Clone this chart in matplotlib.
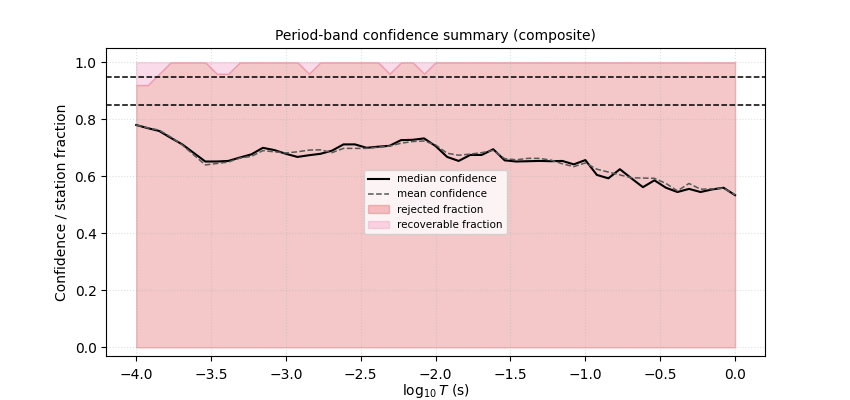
import numpy as np
import matplotlib
matplotlib.use("Agg")
import matplotlib.pyplot as plt

# period bands, log10 T (s)
LOGT = np.linspace(-4.0, 0.0, 53)

MEDIAN = [0.780, 0.769, 0.759, 0.735, 0.712, 0.682, 0.652, 0.652, 0.654, 0.666,
          0.677, 0.700, 0.692, 0.679, 0.668, 0.674, 0.679, 0.690, 0.712, 0.712,
          0.700, 0.704, 0.707, 0.727, 0.728, 0.733, 0.706, 0.668, 0.654, 0.675,
          0.675, 0.695, 0.656, 0.652, 0.653, 0.654, 0.653, 0.654, 0.642, 0.657,
          0.605, 0.593, 0.625, 0.593, 0.562, 0.586, 0.560, 0.545, 0.556, 0.545,
          0.554, 0.560, 0.534]
MEAN = [0.780, 0.770, 0.762, 0.738, 0.710, 0.675, 0.640, 0.645, 0.650, 0.664,
        0.670, 0.690, 0.686, 0.682, 0.686, 0.692, 0.693, 0.683, 0.698, 0.698,
        0.698, 0.702, 0.706, 0.716, 0.722, 0.724, 0.710, 0.681, 0.674, 0.678,
        0.683, 0.691, 0.662, 0.658, 0.663, 0.663, 0.657, 0.644, 0.634, 0.647,
        0.625, 0.615, 0.605, 0.595, 0.594, 0.593, 0.575, 0.549, 0.575, 0.555,
        0.556, 0.559, 0.535]
REJECTED = [0.92, 0.92, 0.96, 1.0, 1.0, 1.0, 1.0, 0.96, 0.96, 1.0,
            1.0, 1.0, 1.0, 1.0, 1.0, 0.96, 1.0, 1.0, 1.0, 1.0,
            1.0, 1.0, 0.96, 1.0, 1.0, 0.96, 1.0, 1.0, 1.0, 1.0,
            1.0, 1.0, 1.0, 1.0, 1.0, 1.0, 1.0, 1.0, 1.0, 1.0,
            1.0, 1.0, 1.0, 1.0, 1.0, 1.0, 1.0, 1.0, 1.0, 1.0,
            1.0, 1.0, 1.0]
RECOVERABLE = [1.0 - r for r in REJECTED]
THRESHOLDS = [0.95, 0.85]

rej = np.array(REJECTED)
rec = np.array(RECOVERABLE)

fig, ax = plt.subplots(figsize=(8.5, 4), dpi=100)
ax.plot(LOGT, MEDIAN, color="black", lw=1.5, label="median confidence", zorder=3)
ax.plot(LOGT, MEAN, color="0.35", lw=1.1, ls="--", label="mean confidence", zorder=3)
ax.fill_between(LOGT, 0, rej, color="#d62728", alpha=0.25, label="rejected fraction", zorder=1)
ax.fill_between(LOGT, rej, rej + rec, color="#ee7fb0", alpha=0.28, label="recoverable fraction", zorder=1)
for t in THRESHOLDS:
    ax.axhline(t, color="black", ls="--", lw=1.1, zorder=2)

ax.set_ylim(-0.03, 1.05)
ax.tick_params(axis="x", pad=5)
ax.set_xlabel(r"$\log_{10}T$ (s)", labelpad=0)
ax.set_ylabel("Confidence / station fraction")
ax.set_title("Period-band confidence summary (composite)", fontsize=10)
ax.grid(True, ls=":", alpha=0.4)
ax.legend(loc="center", fontsize=7.5)
plt.savefig("out.png", dpi=100)
